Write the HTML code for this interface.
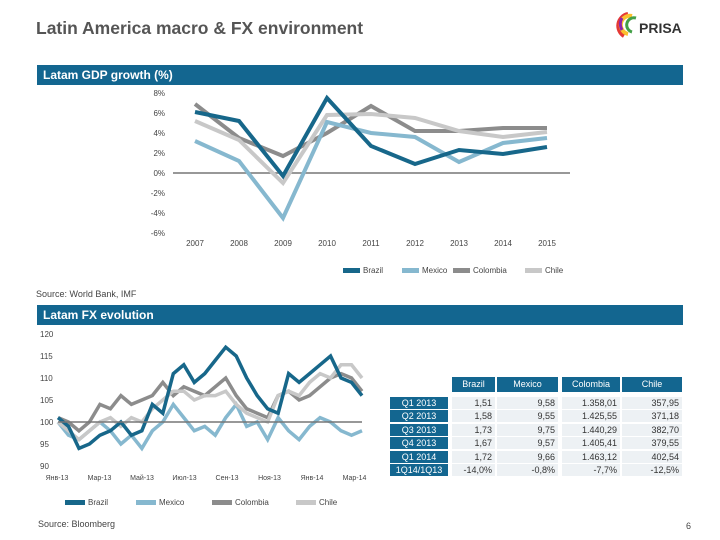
<!DOCTYPE html>
<html><head><meta charset="utf-8"><style>
body{margin:0;width:720px;height:540px;background:#fff;font-family:"Liberation Sans","Noto Sans CJK SC",sans-serif;position:relative;overflow:hidden}
.abs{position:absolute}
.bar{position:absolute;left:37px;width:646px;height:20px;background:#136690;color:#fff;font-size:12px;font-weight:bold;line-height:20px;padding-left:6px;box-sizing:border-box}
.t{position:absolute;font-size:9px;color:#333;text-align:center;line-height:13px}
</style></head><body>
<div class="abs" style="left:36px;top:18px;font-size:17.5px;font-weight:bold;color:#555">Latin America macro &amp; FX environment</div>
<div class="abs" style="left:614px;top:10px;width:72px;height:28px">
<svg width="72" height="28"><path d="M14 4 A12 12 0 0 0 10 26" stroke="#e53935" stroke-width="4" fill="none"/><path d="M18 6 A9 9 0 0 0 14 24" stroke="#fbc02d" stroke-width="4" fill="none"/><path d="M22 8 A7 7 0 0 0 18 22" stroke="#43a047" stroke-width="3" fill="none"/><path d="M8 8 A12 12 0 0 0 8 20" stroke="#8e24aa" stroke-width="3" fill="none"/><text x="25" y="23" font-family="Liberation Sans" font-weight="bold" font-size="14" fill="#333">PRISA</text></svg></div>
<div class="bar" style="top:65px">Latam GDP growth (%)</div>
<svg class="abs" style="left:0;top:0" width="720" height="540" id="gdp"></svg>
<div class="abs" style="left:36px;top:289px;font-size:9px;color:#444">Source: World Bank, IMF</div>
<div class="bar" style="top:305px">Latam FX evolution</div>
<div class="abs" style="left:38px;top:519px;font-size:9px;color:#444">Source: Bloomberg</div>
<div class="abs" style="left:686px;top:521px;font-size:9px;color:#444">6</div>
<div id="tbl"></div>
<script>
const NS='http://www.w3.org/2000/svg';
const svg=document.getElementById('gdp');
function mk(tag,attrs,txt){const e=document.createElementNS(NS,tag);for(const k in attrs)e.setAttribute(k,attrs[k]);if(txt!=null)e.textContent=txt;svg.appendChild(e);return e;}
const colors=['#17678a','#86b8cf','#8c8c8c','#c8c8c8'];
const seriesNames=['Brazil','Mexico','Colombia','Chile'];
// GDP data
const years=['2007','2008','2009','2010','2011','2012','2013','2014','2015'];
const gdpBrazil=[6.1,5.2,-0.3,7.5,2.7,0.9,2.3,1.9,2.6];
const gdpMexico=[3.2,1.2,-4.5,5.1,4.0,3.6,1.1,3.0,3.5];
const gdpColombia=[6.9,3.5,1.7,4.0,6.7,4.2,4.2,4.5,4.5];
const gdpChile=[5.2,3.3,-1.0,5.8,5.9,5.5,4.2,3.6,4.1];
const gdpTicks=[8,6,4,2,0,-2,-4,-6];
const gx=i=>195+i*44, gy=v=>173-v*10;
gdpTicks.forEach(v=>{const t=mk('text',{x:165,y:gy(v)+3,'font-size':8,fill:'#444','text-anchor':'end','font-family':'Liberation Sans'},v+'%');});
years.forEach((y,i)=>{const t=mk('text',{x:gx(i),y:246,'font-size':8,fill:'#444','text-anchor':'middle','font-family':'Liberation Sans'},y);});
const z=mk('line',{x1:173,x2:570,y1:gy(0),y2:gy(0),stroke:'#777','stroke-width':1.5});
[gdpColombia,gdpChile,gdpMexico,gdpBrazil].forEach((d,k)=>{const idx=[2,3,1,0][k];
const p=mk('polyline',{points:d.map((v,i)=>gx(i)+','+gy(v)).join(' '),fill:'none',stroke:colors[idx],'stroke-width':4,'stroke-linejoin':'miter'});
});
const gLegX=[343,402,453,525];
seriesNames.forEach((n,i)=>{const r=mk('rect',{x:gLegX[i],y:268,width:17,height:5,fill:colors[i]});
const t=mk('text',{x:gLegX[i]+20,y:273,'font-size':8,fill:'#444','font-family':'Liberation Sans'},n);});
// FX data
const fxLabels=['Янв-13','Мар-13','Май-13','Июл-13','Сен-13','Ноя-13','Янв-14','Мар-14'];
const fxTicks=[120,115,110,105,100,95,90];
const fxBrazil=[101,99,94,95,97,98,100,97,98,104,102,111,113,109,111,114,117,115,110,106,103,102,111,109,111,113,115,110,109,106];
const fxMexico=[100,97,96,98,100,98,95,97,94,98,100,104,101,98,99,97,101,104,99,100,96,101,98,96,99,101,100,98,97,98];
const fxColombia=[101,100,98,100,104,103,106,104,105,106,109,106,108,107,106,108,110,106,103,102,101,106,107,105,106,108,110,111,110,107];
const fxChile=[100,98,96,98,100,101,99,101,100,103,105,107,107,105,106,106,107,104,102,101,100,106,107,106,109,111,110,113,113,110];
const fx=i=>58+i*(304/(fxBrazil.length-1)), fy=v=>422-(v-100)*4.4;
fxTicks.forEach(v=>{const t=mk('text',{x:40,y:fy(v)+3,'font-size':8,fill:'#444','font-family':'Liberation Sans'},v);});
fxLabels.forEach((l,i)=>{const t=mk('text',{x:57+i*42.5,y:480,'font-size':7,fill:'#444','text-anchor':'middle','font-family':'Liberation Sans, Noto Sans CJK SC'},l);});
[fxMexico,fxColombia,fxChile,fxBrazil].forEach((d,k)=>{const idx=[1,2,3,0][k];
const p=mk('polyline',{points:d.map((v,i)=>fx(i)+','+fy(v)).join(' '),fill:'none',stroke:colors[idx],'stroke-width':3.5});
});
const bl=mk('line',{x1:58,x2:362,y1:fy(100),y2:fy(100),stroke:'#777','stroke-width':1.5});
const fLegX=[65,136,212,296];
seriesNames.forEach((n,i)=>{const r=mk('rect',{x:fLegX[i],y:500,width:20,height:5,fill:colors[i]});
const t=mk('text',{x:fLegX[i]+23,y:505,'font-size':8,fill:'#444','font-family':'Liberation Sans'},n);});
// table
const rowLabels=['Q1 2013','Q2 2013','Q3 2013','Q4 2013','Q1 2014','1Q14/1Q13'];
const tblData=[['1,51','9,58','1.358,01','357,95'],['1,58','9,55','1.425,55','371,18'],['1,73','9,75','1.440,29','382,70'],['1,67','9,57','1.405,41','379,55'],['1,72','9,66','1.463,12','402,54'],['-14,0%','-0,8%','-7,7%','-12,5%']];
const cols=[[452,43],[497,61],[562,58],[622,60]];
const tb=document.getElementById('tbl');let h='';
seriesNames.forEach((n,i)=>{h+=`<div class="t" style="left:${cols[i][0]}px;top:377px;width:${cols[i][1]}px;height:15px;line-height:15px;background:#136690;color:#fff">${n}</div>`;});
rowLabels.forEach((r,j)=>{const y=397+j*13.4;
h+=`<div class="t" style="left:390px;top:${y}px;width:58px;height:12px;line-height:12px;background:#136690;color:#fff">${r}</div>`;
tblData[j].forEach((v,i)=>{h+=`<div class="t" style="left:${cols[i][0]}px;top:${y}px;width:${cols[i][1]-3}px;height:12px;line-height:12px;background:#edf1f4;text-align:right;padding-right:3px">${v}</div>`;});});
tb.innerHTML=h;
</script>
</body></html>
